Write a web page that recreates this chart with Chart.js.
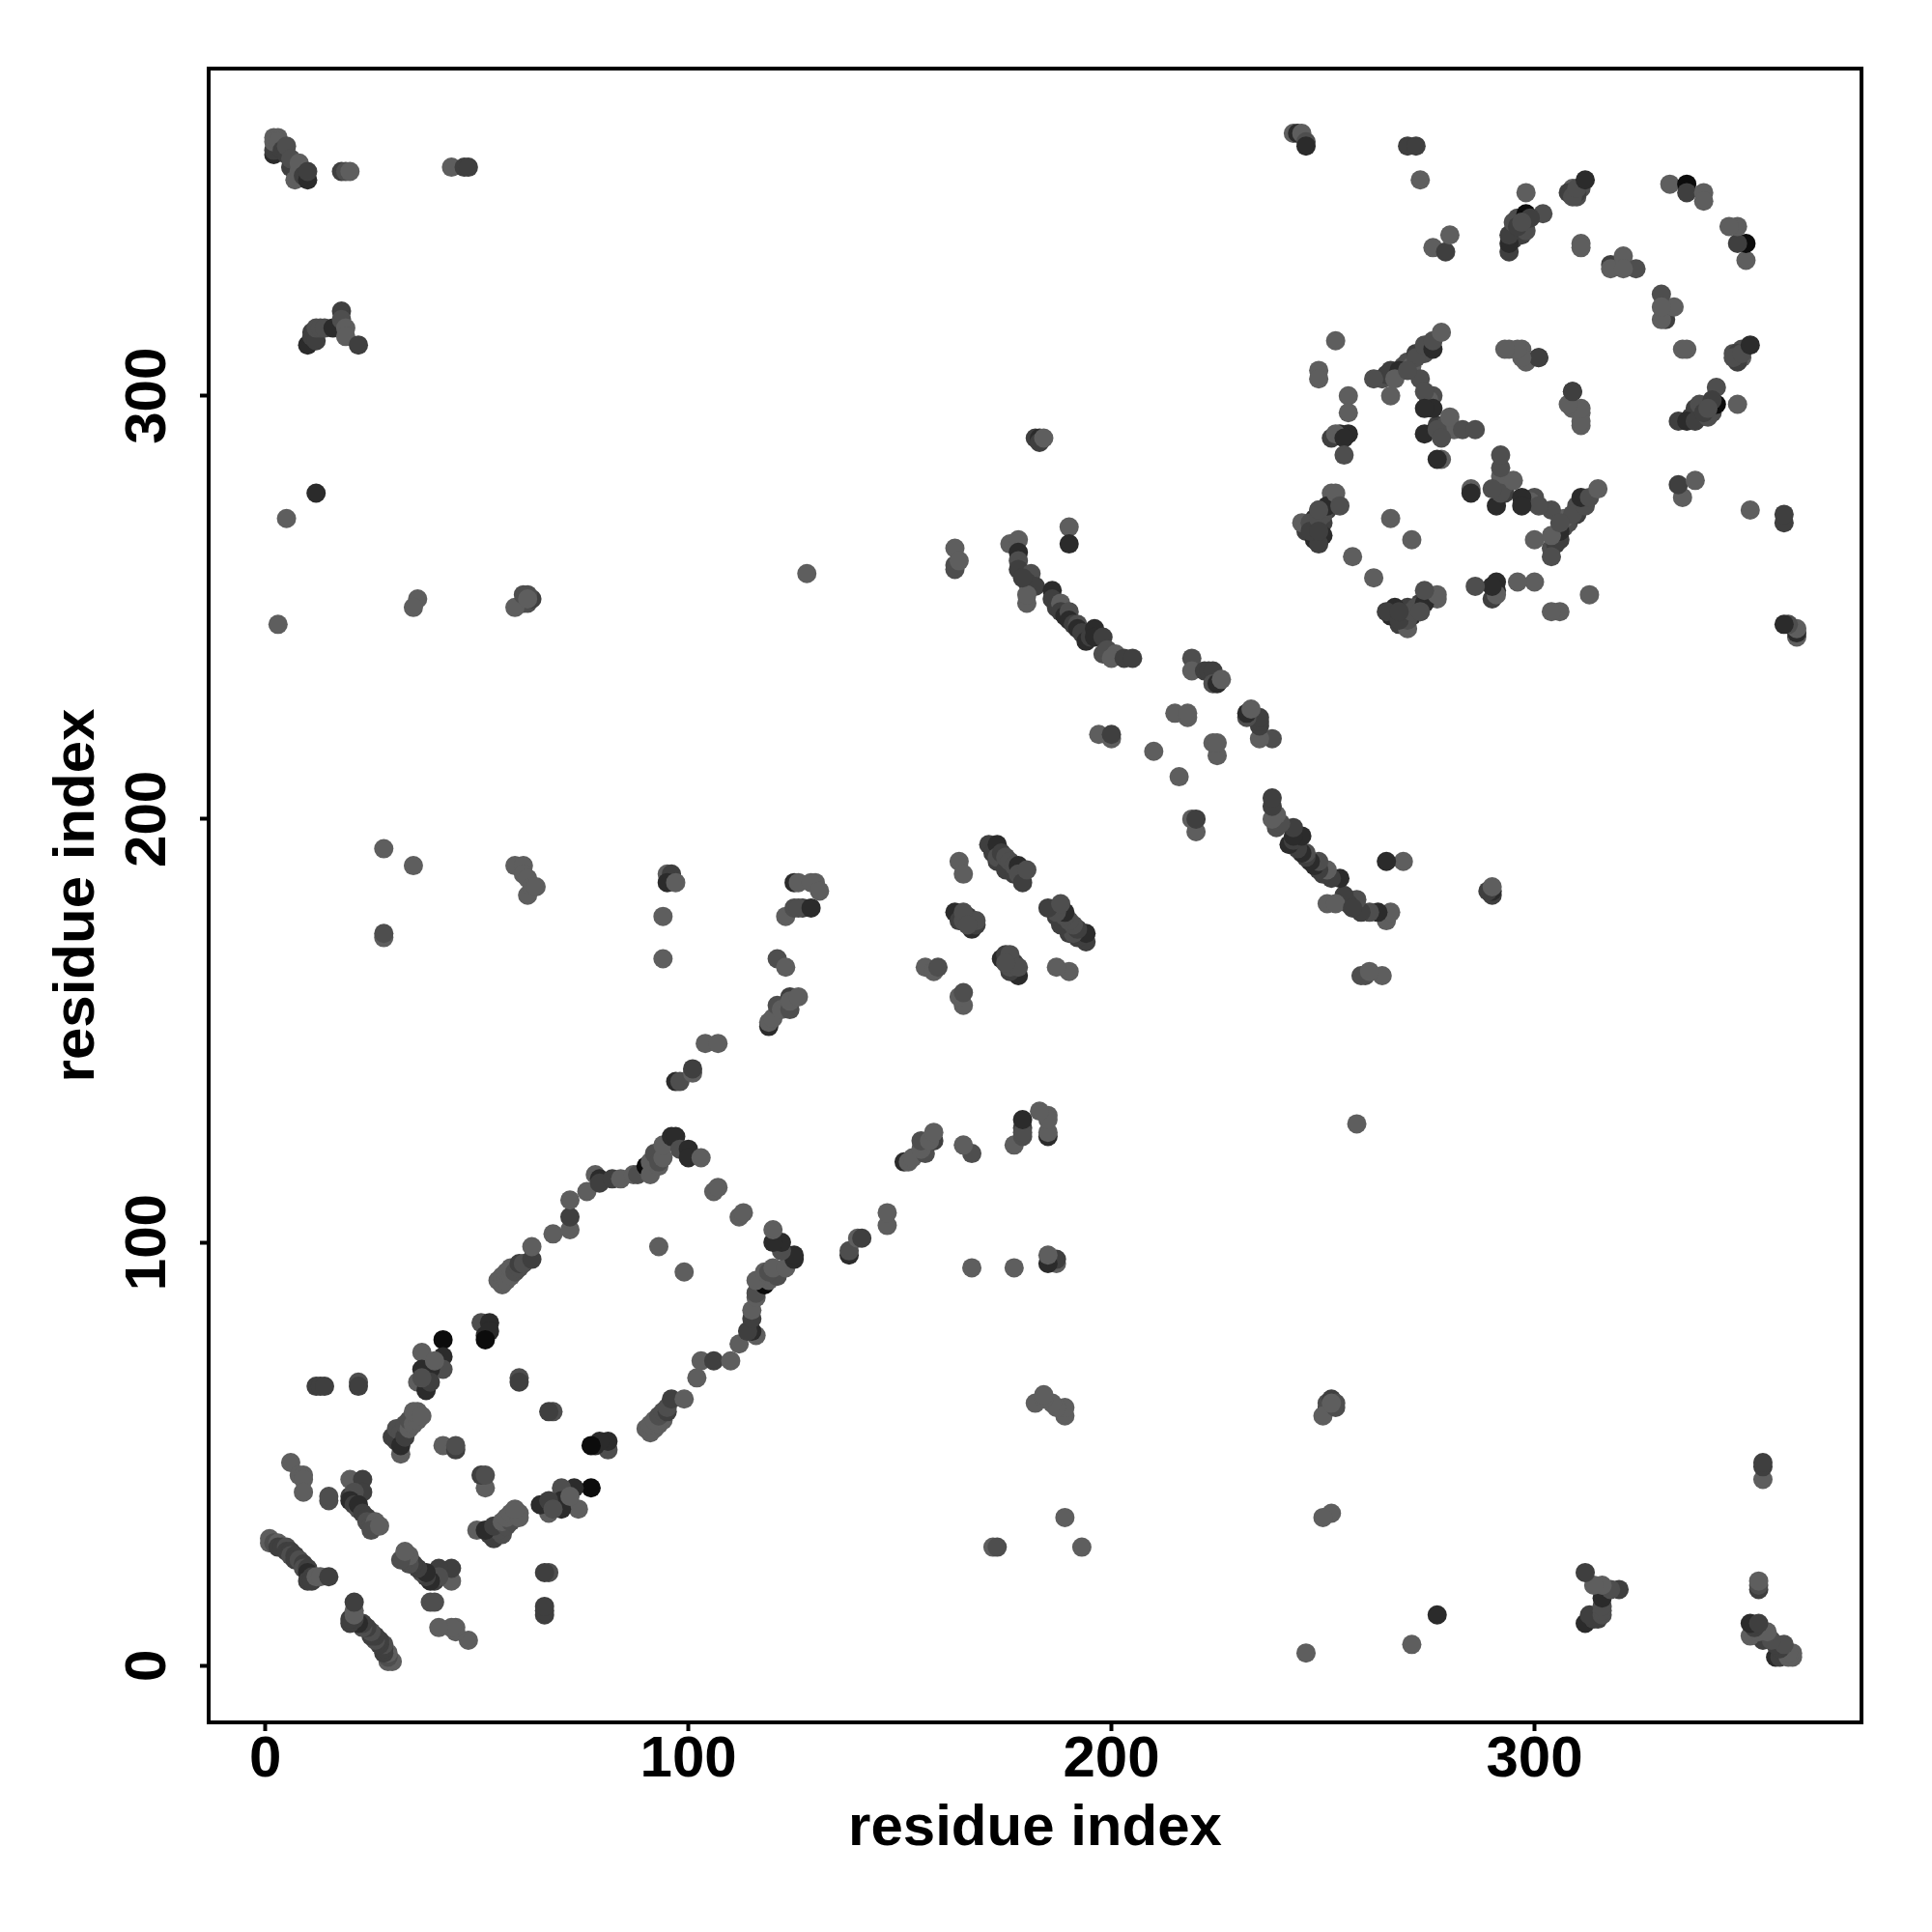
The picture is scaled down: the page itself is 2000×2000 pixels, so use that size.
<!DOCTYPE html>
<html>
<head>
<meta charset="utf-8">
<style>body { margin: 0; background: #fff; }</style>
<script src="https://cdn.jsdelivr.net/npm/chart.js@4"></script>
</head>
<body>
<canvas id="contacts" width="2000" height="2000"></canvas>
<script>
const contactI = [
  264,265,269,270,272,274,276,275,277,279,281,295,295,297,296,298,310,309,311,310,250,251,252,248,250,250,246,248,249,252,248,247,252,
  1,1,2,3,3,4,5,5,6,6,7,7,8,9,9,10,10,10,11,11,12,13,15,
  6,8,9,9,9, 15,15,
  20,23,23,20,21,20,21,22,22,23,24,24,25,26,26,25,27,
  12,13,14,22,22,
  30,31,32,31,32,32,33,33,34,34,35,36,36,35,37,
  37,42,42,42,39,37,36,38,39,37,40,
  42,45,45, 51,53,52,53,52,
  55,56,56,57,57,58,58,59,60,60,61,63,63,
  60,60,
  68,72,72,72,76,78,79,79,82,84,87,88,
  90,91,91,92,93,93,94,94,96,97,98,100,100,103,
  93,106,107,
  97,98,101,101,104,107,
  119,119,120,121,122,124,124,124,126,
  121,123,123,125,127,126,129,125,126,130,129,131,
  94,94,95,96,95,97,
  59,61,61,62,62,63,64,
  28,35,28,28,
  156,158,159,
  167,163,164,166,165,168,168,165,166,164,165,
  171,172,173,173,173,174,175,175,176,177,177,178,178,179,180,
  182,183,183,184,
  61,62,63,59,36,35,61,62,62,
  3,5,12,128,
  10,11,11,12,12,13,14,16,18,18,19,19,22,
  2,2,2,3,2,3,4,5,5,6,6,7,8,8,9,10,10,
  18,19,20,44,47,48,
  163,163,163,164,176,178,178,178,178,181,180,182,180,180,179,
  186,186,187,188,188,189,190,190,191,192,192,193,194,195,196,196,198,198,199,201,200,203,205,190,190,
  197,200,200,210,215,218,218,
  219,219,222,223,224,224,225,226,
  243,244,245,246,246, 270,272,273, 276,279,280,
  298,302,294,294,294,295,296,298,299,297,
  308,309,310,312,311,311,
  318,318,321,324,321,
  332,336,336,340,340,
  253,249,249,
  256,256,256,254,253,255,255,
  262,266,266,268,267,271,272,274,276,276,278,273,270,274,
  276,274,274,277,280,278,277,283,286,278,
  294,297,298,301,309,309,311,311,
  245,247,249,247,249,251,253,254,249,249,
  266,257
];
const contactJ = [
  304,305,307,308,310,310,300,299,293,293,292,337,339,338,342,339,347,349,349,348,270,273,275,268,267,272,268,266,273,277,271,269,290,
  30,29,29,29,28,28,28,27,27,26,26,25,25,24,23,23,22,20,21,20,21,21,21,
  48,45,45,44,41, 39,40,
  44,44,41,40,41,39,38,37,38,36,35,34,33,34,33,32,33,
  66,66,66,67,66,
  54,53,50,56,55,52,54,57,56,58,57,58,60,60,59,
  74,77,73,70,70,70,67,65,67,68,72,
  52,51,52, 81,81,78,79,77,
  91,90,92,91,93,92,94,93,94,95,95,96,99,
  68,67,
  102,103,106,110,112,116,115,114,115,115,116,116,
  118,119,116,121,118,119,120,123,125,125,122,122,120,120,
  99,112,113,
  138,138,140,141,147,147,
  151,152,153,156,155,155,158,157,158,
  167,165,177,179,179,179,179,185,185,185,185,183,
  177,167,187,187,185,185,
  189,189,187,186,182,184,184,
  193,189,172,173,
  165,164,165,
  174,178,176,177,176,175,176,178,175,190,187,
  194,192,194,190,191,192,188,191,190,187,189,189,187,185,188,
  290,290,289,290,
  251,251,252,250,252,250,253,253,252,
  246,271,277,258,
  312,315,314,313,316,316,316,316,320,318,316,314,312,
  357,358,361,361,360,360,358,357,359,354,356,351,353,355,352,351,353,
  353,353,353,354,354,354,
  264,260,259,261,265,266,263,261,259,258,256,255,251,253,257,
  254,252,250,251,249,248,249,247,246,246,245,244,242,243,245,243,243,239,240,239,238,238,238,269,265,
  220,219,220,216,225,224,225,
  238,235,235,235,235,232,232,233,
  362,362,362,360,359, 359,359,351, 335,334,338,
  348,343,334,336,338,341,340,343,342,341,
  348,347,349,351,336,335,
  331,330,333,330,330,
  350,350,348,348,346,
  313,306,304,
  300,296,291,291,291,290,286,
  304,306,300,306,304,307,309,312,311,313,315,304,306,301,
  297,297,291,292,295,285,285,292,292,290,
  311,311,308,309,301,297,296,293,
  270,270,265,268,271,274,277,274,273,268,
  271,262
];
const contactWeight = [
  2,3,2,2,3,2,2,1,3,2,1,3,2,3,2,2,2,1,2,3,3,3,1,4,4,2,3,4,1,1,4,4,3,
  1,1,2,1,3,3,2,3,3,2,3,3,2,3,2,3,4,3,3,3,1,1,3,
  1,1,1,1,1, 2,2,
  1,3,3,3,2,4,3,2,4,3,3,2,2,1,1,2,1,
  3,3,3,2,3,
  3,3,1,2,2,4,3,2,1,2,1,1,1,1,1,
  1,5,4,2,4,4,1,4,3,2,1,
  1,3,2, 2,4,4,4,5,
  1,1,1,1,1,1,1,2,2,3,2,3,1,
  2,3,
  1,1,3,1,1,1,4,3,3,1,1,2,
  5,1,1,2,1,2,1,1,4,4,2,4,4,1,
  1,1,1,
  4,2,1,3,1,1,
  4,1,1,2,1,2,3,1,1,
  2,1,1,2,3,2,4,4,1,1,1,1,
  1,1,1,3,4,1,
  1,1,1,1,1,1,1,
  1,1,1,2,
  1,1,2,
  4,4,3,3,2,3,2,2,2,1,1,
  3,3,4,3,2,3,3,2,2,3,2,4,2,3,2,
  3,4,3,1,
  3,2,3,1,1,1,2,2,1,
  1,1,4,1,
  4,3,3,3,2,2,2,4,3,2,1,1,3,
  4,3,1,1,1,1,3,3,2,3,2,1,1,1,3,4,3,
  3,2,1,1,3,3,
  1,2,2,1,1,1,4,2,3,2,3,3,1,1,3,
  4,3,3,1,3,4,2,4,3,2,4,3,4,3,4,4,3,2,2,1,1,3,3,1,4,
  1,1,3,1,1,1,1,
  2,1,3,3,3,2,4,1,
  1,4,1,2,4, 3,3,1, 1,3,1,
  1,2,3,4,3,2,3,5,3,2,
  3,2,2,4,1,1,
  3,1,1,2,1,
  1,5,3,1,1,
  1,1,1,
  1,1,4,4,1,4,2,
  2,3,1,4,1,1,2,2,4,2,1,2,2,2,
  4,4,4,2,1,1,4,2,2,2,
  1,1,1,3,3,1,1,1,
  1,2,3,3,2,4,1,2,2,3,
  1,1
];
const tickValues = [0, 100, 200, 300];
const axisLabel = 'residue index';
const grays = ['#5e5e5e', '#4e4e4e', '#3f3f3f', '#2b2b2b', '#0c0c0c'];

// the map is symmetric, so every contact also shows as (j, i)
const xValues = contactI.concat(contactJ);
const yValues = contactJ.concat(contactI);
const weights = contactWeight.concat(contactWeight);

const boxPlugin = {
  id: 'box',
  afterDraw(chart) {
    const a = chart.chartArea;
    const ctx = chart.ctx;
    ctx.save();
    ctx.strokeStyle = '#000';
    ctx.lineWidth = 4;
    ctx.strokeRect(a.left, a.top, a.right - a.left, a.bottom - a.top);
    ctx.restore();
  }
};

function axis(extra) {
  return Object.assign({
    type: 'linear',
    min: -13.4,
    max: 377.3,
    afterBuildTicks: s => { s.ticks = tickValues.map(v => ({ value: v })); },
    border: { display: false },
    grid: { drawOnChartArea: false, drawTicks: true, tickLength: 9, tickWidth: 4, tickColor: '#000' }
  }, extra);
}

const font = { family: 'Liberation Sans', size: 60, weight: 'bold' };

new Chart(document.getElementById('contacts').getContext('2d'), {
  type: 'scatter',
  data: {
    datasets: [{
      data: xValues.map((x, k) => ({ x: x, y: yValues[k] })),
      pointRadius: 10,
      pointBorderWidth: 0,
      pointBackgroundColor: weights.map(w => grays[w - 1])
    }]
  },
  plugins: [boxPlugin],
  options: {
    responsive: false,
    animation: false,
    layout: { padding: { top: 71, right: 73, left: 0, bottom: 0 } },
    plugins: { legend: { display: false }, tooltip: { enabled: false } },
    scales: {
      x: axis({
        afterFit: s => { s.height = 217; },
        ticks: { color: '#000', font: font, padding: -6, maxRotation: 0 },
        title: { display: true, text: axisLabel, color: '#000', font: font, padding: { top: 0, bottom: 71 } }
      }),
      y: axis({
        afterFit: s => { s.width = 216; },
        ticks: { color: '#000', font: font, padding: 2, minRotation: 90, maxRotation: 90, crossAlign: 'center' },
        title: { display: true, text: axisLabel, color: '#000', font: font, padding: { top: 44, bottom: 0 } }
      })
    }
  }
});
</script>
</body>
</html>
